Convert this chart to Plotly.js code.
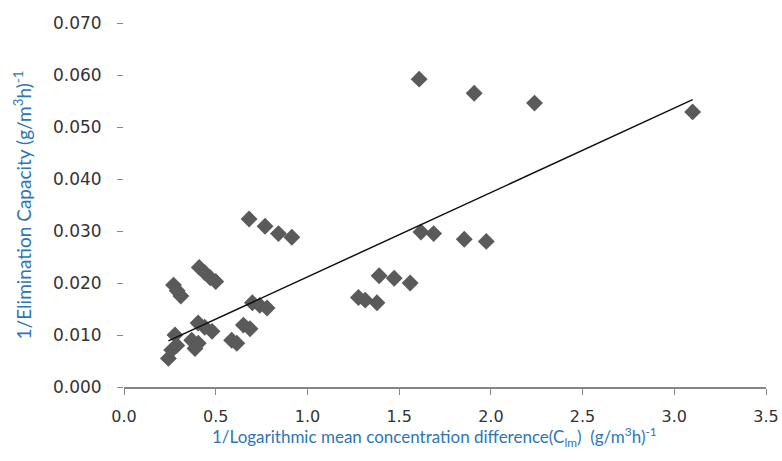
<!DOCTYPE html>
<html>
<head>
<meta charset="utf-8">
<script src="https://cdn.plot.ly/plotly-3.0.1.min.js"></script>
<style>html,body{margin:0;padding:0;background:#fff;}#chart{width:782px;height:461px;}</style>
</head>
<body>
<div id="chart"></div>
<script>
// 1 / Logarithmic mean concentration difference (g/m3h)^-1
const xValues = [0.242, 0.260, 0.288, 0.278, 0.369, 0.387, 0.405, 0.404, 0.440, 0.480,
                 0.587, 0.615, 0.651, 0.687, 0.270, 0.290, 0.310, 0.410, 0.440, 0.470,
                 0.500, 0.700, 0.740, 0.780, 0.682, 0.769, 0.842, 0.915, 1.278, 1.315,
                 1.379, 1.391, 1.473, 1.560, 1.609, 1.619, 1.688, 1.855, 1.975, 1.909,
                 2.238, 3.100];
// 1 / Elimination Capacity (g/m3h)^-1
const yValues = [0.0055, 0.0071, 0.0080, 0.0100, 0.0090, 0.0074, 0.0084, 0.0123, 0.0115, 0.0107,
                 0.0090, 0.0084, 0.0119, 0.0112, 0.0196, 0.0185, 0.0175, 0.0230, 0.0220, 0.0210,
                 0.0203, 0.0162, 0.0157, 0.0152, 0.0323, 0.0309, 0.0295, 0.0288, 0.0172, 0.0167,
                 0.0162, 0.0214, 0.0209, 0.0200, 0.0592, 0.0298, 0.0295, 0.0284, 0.0280, 0.0565,
                 0.0546, 0.0529];
const xTickVals = [0, 0.5, 1.0, 1.5, 2.0, 2.5, 3.0, 3.5];
const xTickText = ['0.0', '0.5', '1.0', '1.5', '2.0', '2.5', '3.0', '3.5'];
const yTickVals = [0, 0.01, 0.02, 0.03, 0.04, 0.05, 0.06, 0.07];
const yTickText = ['0.000', '0.010', '0.020', '0.030', '0.040', '0.050', '0.060', '0.070'];
const xTitleText = '1/Logarithmic mean concentration difference(C<sub>lm</sub>)  (g/m<sup>3</sup>h)<sup>-1</sup>';
const yTitleText = '1/Elimination Capacity (g/m<sup>3</sup>h)<sup>-1</sup>';

// linear trendline as shown on the chart (slope and intercept)
const trendSlope = 0.01623;
const trendIntercept = 0.00494;
const xMin = Math.min(...xValues), xMax = Math.max(...xValues);
const trendX = [xMin, xMax];
const trendY = trendX.map(v => trendIntercept + trendSlope * v);

const xTickFont = {family: 'DejaVu Sans, Verdana, sans-serif', size: 16, color: '#333333'};
const yTickFont = {family: 'DejaVu Sans, Verdana, sans-serif', size: 17, color: '#333333'};
const xTitleFont = {family: 'Lato, Open Sans, sans-serif', size: 17, color: '#2E75B6'};
const yTitleFont = {family: 'Lato, Open Sans, sans-serif', size: 19, color: '#2E75B6'};

const data = [
  {x: xValues, y: yValues, type: 'scatter', mode: 'markers',
   marker: {symbol: 'diamond', size: 13, color: '#5a5a5a'}, showlegend: false},
  {x: trendX, y: trendY, type: 'scatter', mode: 'lines',
   line: {color: '#111111', width: 1.5}, showlegend: false}
];

const layout = {
  width: 782, height: 461,
  margin: {l: 124, r: 16, t: 23, b: 74, pad: 0},
  paper_bgcolor: '#ffffff', plot_bgcolor: '#ffffff',
  xaxis: {
    range: [0, 3.5], tickvals: xTickVals, ticktext: xTickText,
    showgrid: false, zeroline: false, showline: true, linecolor: '#868686', linewidth: 1.5,
    ticks: 'outside', ticklen: 6, tickcolor: '#868686', tickfont: xTickFont,
    ticklabelstandoff: 8
  },
  yaxis: {
    range: [0, 0.07], tickvals: yTickVals, ticktext: yTickText,
    showgrid: false, zeroline: false, showline: false,
    ticks: 'outside', ticklen: 6, tickcolor: '#868686', tickfont: yTickFont,
    ticklabelstandoff: 12,
    title: {text: yTitleText, font: yTitleFont, standoff: 16}
  },
  annotations: [
    {text: xTitleText, xref: 'paper', yref: 'paper', x: 0.483, y: -0.137,
     xanchor: 'center', yanchor: 'middle', showarrow: false, font: xTitleFont, borderpad: 0}
  ]
};

Plotly.newPlot('chart', data, layout, {displayModeBar: false});
</script>
</body>
</html>
